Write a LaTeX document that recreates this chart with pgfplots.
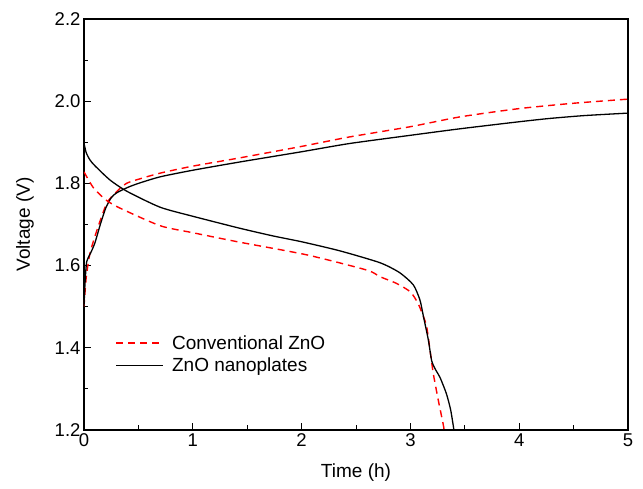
\documentclass[border=0pt]{standalone}
\usepackage{pgfplots}
\pgfplotsset{compat=1.18}
\usepackage{fontspec}
\setmainfont{Liberation Sans}
\begin{document}
\begin{tikzpicture}
\useasboundingbox (-84pt,-59pt) rectangle (559pt,430pt);
\begin{axis}[
  at={(0,0)}, anchor=south west,
  scale only axis, width=544pt, height=411pt,
  xmin=0, xmax=5, ymin=1.2, ymax=2.2,
  xtick={0,1,2,3,4,5}, ytick={1.2,1.4,1.6,1.8,2.0,2.2},
  minor x tick num=1, minor y tick num=1,
  tick align=inside, xtick pos=bottom, ytick pos=left,
  major tick length=7pt, minor tick length=4.5pt,
  axis line style={line width=1.3pt},
  every tick/.style={line width=1pt, black},
  /pgf/number format/assume math mode=true,
  yticklabel style={/pgf/number format/.cd, fixed, fixed zerofill, precision=1},
  xticklabel style={/pgf/number format/.cd, fixed, precision=0},
  ticklabel style={font=\fontsize{18.5}{21}\selectfont},
  xlabel={Time (h)}, ylabel={Voltage (V)},
  label style={font=\fontsize{19}{22}\selectfont},
  xlabel style={yshift=-10pt},
  ylabel style={yshift=14pt},
  legend style={at={(axis cs:0.262,1.44)}, anchor=north west, draw=none, fill=none,
    font=\fontsize{19}{22}\selectfont, row sep=3pt,
    /tikz/every odd column/.append style={column sep=6pt}},
  legend cell align=left,
  legend image code/.code={\draw[#1] (0pt,0pt) -- (47pt,0pt);},
]
\addplot[red, line width=1.4pt, dash pattern=on 7pt off 5pt, smooth, tension=0.4] coordinates {
(0,1.50) (0.02,1.57) (0.055,1.63) (0.12,1.687) (0.21,1.752) (0.3,1.78) (0.39,1.80)
(0.5,1.81) (0.7,1.825) (1.0,1.842) (1.43,1.862) (2.0,1.89) (2.44,1.913) (3.0,1.938)
(3.46,1.962) (4.0,1.982) (4.5,1.995) (5.0,2.005)};
\addlegendentry{Conventional ZnO}
\addplot[black, line width=1.3pt, smooth, tension=0.4] coordinates {
(0,1.50) (0.01,1.56) (0.025,1.61) (0.06,1.63) (0.1,1.655) (0.15,1.70) (0.2,1.74)
(0.25,1.765) (0.3,1.777) (0.4,1.79) (0.5,1.80) (0.7,1.816) (1.0,1.832) (1.43,1.852)
(2.0,1.877) (2.44,1.897) (3.0,1.917) (3.46,1.933) (4.0,1.950) (4.28,1.958) (4.6,1.965) (5.0,1.971)};
\addlegendentry{ZnO nanoplates}
\addplot[red, line width=1.4pt, dash pattern=on 7pt off 5pt, smooth, tension=0.4, forget plot] coordinates {
(0,1.828) (0.085,1.79) (0.2,1.76) (0.33,1.74) (0.7,1.697) (1.0,1.68) (1.43,1.657)
(2.05,1.626) (2.6,1.589) (2.72,1.573) (2.87,1.557) (3.0,1.536) (3.07,1.508) (3.12,1.476)
(3.15,1.451) (3.18,1.395) (3.21,1.338) (3.256,1.273) (3.30,1.216) (3.31,1.2)};
\addplot[black, line width=1.3pt, smooth, tension=0.4, forget plot] coordinates {
(0,1.898) (0.02,1.875) (0.055,1.857) (0.1,1.843) (0.24,1.808) (0.4,1.78) (0.7,1.742)
(1.0,1.72) (1.43,1.691) (1.74,1.672) (2.0,1.658) (2.35,1.636) (2.72,1.607) (2.9,1.583)
(3.027,1.553) (3.088,1.516) (3.12,1.476) (3.165,1.419) (3.196,1.368) (3.235,1.345) (3.272,1.328)
(3.33,1.289) (3.37,1.249) (3.40,1.2)};
\end{axis}
\end{tikzpicture}
\end{document}
